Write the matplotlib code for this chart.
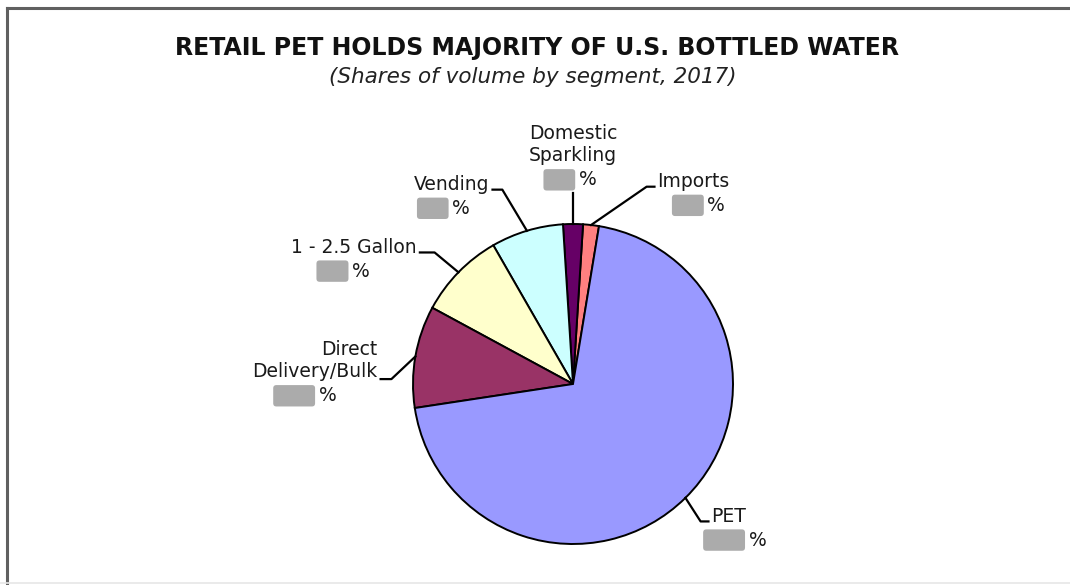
import numpy as np
import matplotlib.pyplot as plt
from matplotlib.lines import Line2D

# shares of volume by segment, 2017
segments = ["Imports", "Domestic\nSparkling", "Vending", "1 - 2.5 Gallon",
            "Direct\nDelivery/Bulk", "PET"]
shares = [1.6, 2.0, 7.3, 8.8, 10.3, 70.0]
colors = ["#FF8080", "#660066", "#CCFFFF", "#FFFFCC", "#993366", "#9999FF"]

# label placement in pixels:
# (text x, text y, ha, elbow x, value-block right edge x)
CX, CY, R = 573, 384, 163
label_pos = {
    "Imports":               (659, 178, "left", 648, 706),
    "Domestic\nSparkling":   (573, 140, "center", None, 575),
    "Vending":               (488, 181, "right", 501, 446),
    "1 - 2.5 Gallon":        (414, 245, "right", 432, 344),
    "Direct\nDelivery/Bulk": (374, 360, "right", 388, 310),
    "PET":                   (714, 519, "left", 703, 748),
}


def px(x, y):
    return (x - CX) / R, (CY - y) / R


fig = plt.figure(figsize=(10.7, 5.85), dpi=100)
fig.patch.set_facecolor("white")

# frame lines of the original graphic
fig.add_artist(Line2D([6.5 / 1070, 1], [1 - 7.5 / 585] * 2, color="#606060", lw=2.2))
fig.add_artist(Line2D([6.5 / 1070] * 2, [0, 1 - 7.5 / 585], color="#606060", lw=2.2))
fig.add_artist(Line2D([0, 1], [2 / 585] * 2, color="#e6e6e6", lw=1.2))

fig.text(537 / 1070, 1 - 48 / 585, "RETAIL PET HOLDS MAJORITY OF U.S. BOTTLED WATER",
         ha="center", va="center", fontsize=17, fontweight="bold", color="#111111")
fig.text(533 / 1070, 1 - 77 / 585, "(Shares of volume by segment, 2017)",
         ha="center", va="center", fontsize=15.5, style="italic", color="#222222")

half = 200
ax = fig.add_axes([(CX - half) / 1070, (585 - CY - half) / 585,
                   2 * half / 1070, 2 * half / 585])
ax.set_xlim(-half / R, half / R)
ax.set_ylim(-half / R, half / R)
ax.set_aspect("equal")
ax.axis("off")

# sparkling slice is centred on 12 o'clock
start = 90 - 360 * (shares[0] + shares[1] / 2) / 100
wedges, _ = ax.pie(shares, colors=colors, startangle=start, counterclock=True,
                   radius=1, wedgeprops=dict(edgecolor="black", linewidth=1.4))

fs = 13.5
for w, name, val in zip(wedges, segments, shares):
    tx, ty, ha, ex, vx = label_pos[name]
    mid = np.deg2rad((w.theta1 + w.theta2) / 2)
    wx, wy = np.cos(mid), np.sin(mid)
    nlines = name.count("\n") + 1
    x0, y0 = px(tx, ty)
    ax.text(x0, y0, name, ha=ha, va="center", fontsize=fs, color="#1a1a1a",
            linespacing=1.22, clip_on=False)
    # value row: obscured number + percent sign
    vy = ty + 12 * (nlines + 1)
    bx, by = px(vx, vy)
    ax.text(bx - 3 / R, by, f"{val:.1f}", ha="right", va="center", fontsize=fs - 2,
            color="#ababab", clip_on=False,
            bbox=dict(boxstyle="round,pad=0.2", fc="#ababab", ec="none"))
    ax.text(bx + 4 / R, by, "%", ha="left", va="center", fontsize=fs,
            color="#1a1a1a", clip_on=False)
    # leader line
    if ex is None:
        lx0, ly0 = px(tx, vy + 13)
        ax.plot([lx0, wx], [ly0, wy], color="black", lw=1.6, clip_on=False)
    else:
        ly = ty + 5 if nlines == 1 else ty + 19
        sx = tx - 3 if ha == "left" else tx + 3
        ax1, ay1 = px(sx, ly)
        ax2, _ = px(ex, ly)
        ax.plot([ax1, ax2, wx], [ay1, ay1, wy], color="black", lw=1.6,
                clip_on=False)

fig.savefig("out.png", dpi=100, facecolor="white")
